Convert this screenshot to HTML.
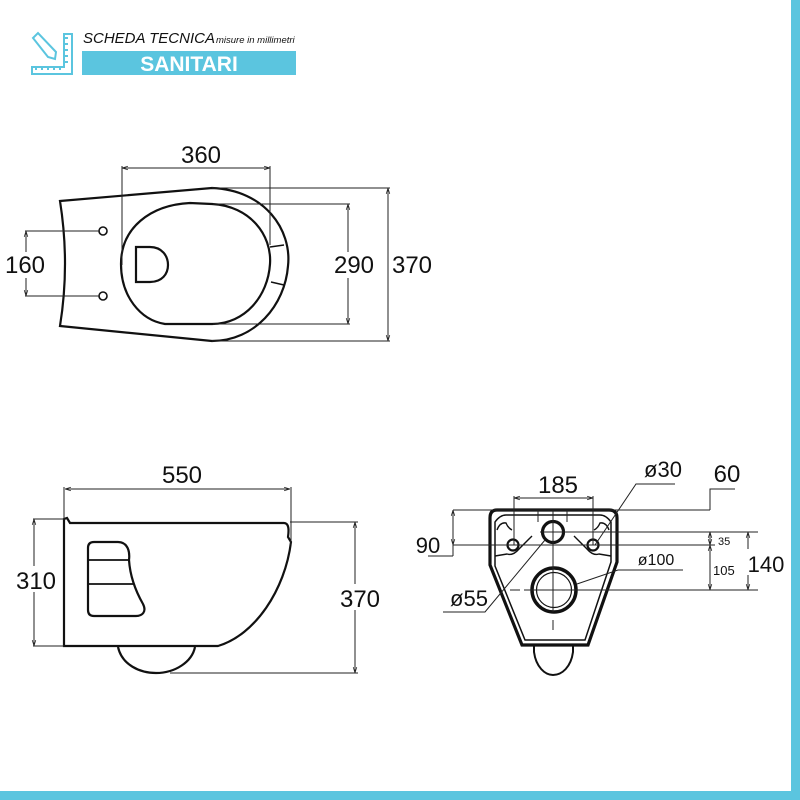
<!DOCTYPE html>
<html><head><style>
html,body{margin:0;padding:0;background:#fff}
svg{display:block}
text{font-family:"Liberation Sans",sans-serif;fill:#111}
</style></head><body>
<svg width="800" height="800" viewBox="0 0 800 800" xmlns="http://www.w3.org/2000/svg">
<defs>
<marker id="a" viewBox="0 0 10 10" refX="10" refY="5" markerWidth="6" markerHeight="6" orient="auto-start-reverse"><path d="M0,2 L10,5 L0,8" fill="none" stroke="#222" stroke-width="1.2"/></marker>
</defs>
<rect x="791" y="0" width="9" height="800" fill="#5bc5df"/>
<rect x="0" y="791" width="800" height="9" fill="#5bc5df"/>
<!-- header -->
<g stroke="#5bc5df" stroke-width="2" fill="none">
<path d="M64,34 L72,34 L72,74 L32,74 L32,67 L64,67 Z"/>
<path d="M36,67 v3 M42,67 v3 M48,67 v3 M54,67 v3 M60,67 v3 M68,38 h-3 M68,44 h-3 M68,50 h-3 M68,56 h-3 M68,62 h-3"/>
<path d="M33,38 L38,33 L56,52 L55,59 L48,57 Z"/>
</g>
<text x="83" y="43" font-size="15" font-style="italic">SCHEDA TECNICA</text>
<text x="216" y="43" font-size="9.5" font-style="italic">misure in millimetri</text>
<rect x="82" y="51" width="214" height="24" fill="#5bc5df"/>
<text x="189" y="71" font-size="21" font-weight="bold" text-anchor="middle" style="fill:#fff">SANITARI</text>

<!-- TOP VIEW -->
<g fill="none" stroke="#111" stroke-width="2.2">
<path d="M60,201 L212,188 C265,190 292,230 288,266 C285,305 255,341 212,341 L60,326 Q70,264 60,201 Z"/>
<path d="M212,204 C250,206 272,235 270,264 C268,296 245,324 212,324 L165,324 C140,320 121,296 121,264 C121,228 150,205 190,203 Z"/>
<path d="M270,247 L284,245 M271,282 L284,285" stroke-width="1.5"/>
<path d="M136,247 L150,247 C162,247 168,256 168,265 C168,274 162,282 150,282 L136,282 Z"/>
<circle cx="103" cy="231" r="4" stroke-width="1.6"/>
<circle cx="103" cy="296" r="4" stroke-width="1.6"/>
</g>
<g stroke="#222" stroke-width="1" fill="none">
<path d="M122,166 V265 M270,166 V245"/>
<line x1="122" y1="168" x2="270" y2="168" marker-start="url(#a)" marker-end="url(#a)"/>
<path d="M25,231 H100 M25,296 H100"/>
<line x1="26" y1="231" x2="26" y2="296" marker-start="url(#a)" marker-end="url(#a)"/>
<path d="M213,204 H350 M213,324 H350"/>
<line x1="348" y1="204" x2="348" y2="324" marker-start="url(#a)" marker-end="url(#a)"/>
<path d="M212,188 H390 M212,341 H390"/>
<line x1="388" y1="188" x2="388" y2="341" marker-start="url(#a)" marker-end="url(#a)"/>
</g>
<rect x="6" y="252" width="42" height="26" fill="#fff"/>
<rect x="332" y="252" width="44" height="26" fill="#fff"/>
<rect x="390" y="252" width="44" height="26" fill="#fff"/>
<text x="201" y="163" font-size="24" text-anchor="middle">360</text>
<text x="25" y="273" font-size="24" text-anchor="middle">160</text>
<text x="354" y="273" font-size="24" text-anchor="middle">290</text>
<text x="412" y="273" font-size="24" text-anchor="middle">370</text>

<!-- SIDE VIEW -->
<g fill="none" stroke="#111" stroke-width="2.2">
<path d="M64,646 V519 L67,518 L70,523 H284 C289,523 289,530 288,537 L291,542 C285,590 255,635 218,646 Z"/>
<path d="M88,548 Q88,542 94,542 H118 C128,542 130,552 129,560 C130,575 135,590 143,604 C147,612 142,616 136,616 H94 Q88,616 88,610 Z"/>
<path d="M88,560 H128 M88,584 H134" stroke-width="1.8"/>
<path d="M118,647 C122,665 140,673 156,673 C175,673 192,662 195,647"/>
</g>
<g stroke="#222" stroke-width="1" fill="none">
<path d="M64,487 V520 M291,487 V545"/>
<line x1="65" y1="489" x2="290" y2="489" marker-start="url(#a)" marker-end="url(#a)"/>
<path d="M33,519 H64 M33,646 H64"/>
<line x1="34" y1="519" x2="34" y2="646" marker-start="url(#a)" marker-end="url(#a)"/>
<path d="M290,522 H358 M170,673 H358"/>
<line x1="355" y1="522" x2="355" y2="673" marker-start="url(#a)" marker-end="url(#a)"/>
</g>
<rect x="14" y="566" width="44" height="26" fill="#fff"/>
<rect x="336" y="584" width="48" height="26" fill="#fff"/>
<text x="182" y="483" font-size="24" text-anchor="middle">550</text>
<text x="36" y="589" font-size="24" text-anchor="middle">310</text>
<text x="360" y="607" font-size="24" text-anchor="middle">370</text>

<!-- BACK VIEW -->
<g fill="none" stroke="#111">
<path d="M497,510 H609 Q617,510 617,518 V562 L588,645 H522 L490,565 V518 Q490,510 497,510 Z" stroke-width="3.2"/>
<path d="M506,515 H600 Q606,515 611,522 V562 L585,640 H525 L495,566 V522 Q500,515 506,515 Z" stroke-width="1.5"/>
<path d="M497,530 Q500,522 506,523 Q508,528 512,530 M609,530 Q606,522 600,523 Q598,528 594,530" stroke-width="1.4"/>
<path d="M495,556 L507,554 Q513,556 519,549 L532,536 M611,556 L599,554 Q593,556 587,549 L574,536" stroke-width="1.4"/>
<circle cx="553" cy="532" r="10.5" stroke-width="3.2"/>
<circle cx="513" cy="545" r="5.5" stroke-width="2.2"/>
<circle cx="593" cy="545" r="5.5" stroke-width="2.2"/>
<circle cx="554" cy="590" r="22" stroke-width="3.5"/>
<circle cx="554" cy="590" r="17.5" stroke-width="1.2"/>
<path d="M534,645 V652 C536,667 545,675 553,675 C562,675 571,667 573,652 V645" stroke-width="2"/>
</g>
<g stroke="#222" stroke-width="1" fill="none">
<path d="M553,510 V612 M553,620 V630 M538,510 V522 M567,510 V522" />
<path d="M514,496 V545 M593,496 V545"/>
<line x1="514" y1="498" x2="593" y2="498" marker-start="url(#a)" marker-end="url(#a)"/>
<path d="M453,510 H710 M710,510 V489 H735"/>
<path d="M453,545 H715 M428,556 H453"/>
<line x1="453" y1="510" x2="453" y2="545" marker-start="url(#a)" marker-end="url(#a)"/>
<line x1="453" y1="545" x2="453" y2="556"/>
<path d="M540,532 H758 M510,590 H520 M524,590 H758"/>
<line x1="710" y1="532" x2="710" y2="545" marker-start="url(#a)" marker-end="url(#a)"/>
<line x1="710" y1="545" x2="710" y2="590" marker-start="url(#a)" marker-end="url(#a)"/>
<line x1="748" y1="532" x2="748" y2="590" marker-start="url(#a)" marker-end="url(#a)"/>
<path d="M595,545 L636,484 H675"/>
<path d="M577,584 L618,570 H683"/>
<path d="M545,540 L485,612 H443"/>
</g>
<rect x="740" y="549" width="44" height="26" fill="#fff"/>
<text x="558" y="493" font-size="24" text-anchor="middle">185</text>
<text x="663" y="477" font-size="22" text-anchor="middle">ø30</text>
<text x="727" y="482" font-size="24" text-anchor="middle">60</text>
<text x="428" y="553" font-size="22" text-anchor="middle">90</text>
<text x="718" y="545" font-size="11">35</text>
<text x="713" y="575" font-size="13">105</text>
<text x="766" y="572" font-size="22" text-anchor="middle">140</text>
<text x="656" y="565" font-size="16" text-anchor="middle">ø100</text>
<text x="469" y="606" font-size="22" text-anchor="middle">ø55</text>
</svg>
</body></html>
